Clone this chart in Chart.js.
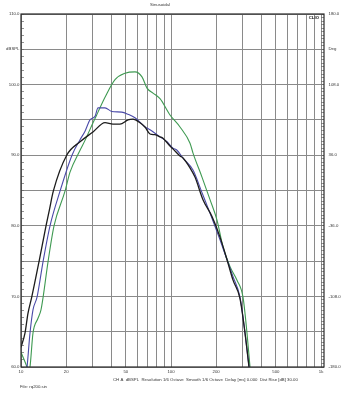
<!DOCTYPE html>
<html><head><meta charset="utf-8">
<script src="https://cdn.jsdelivr.net/npm/chart.js@4/dist/chart.umd.min.js"></script>
<style>html,body{margin:0;padding:0;background:#fff;overflow:hidden}canvas{display:block}</style>
</head><body>
<canvas id="c" width="342" height="396" style="width:342px;height:396px"></canvas>
<script>
// ---- data ----
const xTickValues = [10,20,30,40,50,60,70,80,90,100,200,300,400,500,600,700,800,900,1000];
const xTickLabels = {10:'10',20:'20',50:'50',100:'100',200:'200',500:'500',1000:'1k'};
const dbTickLabels = {110:'110.0',105:'dBSPL',100:'100.0',90:'90.0',80:'80.0',70:'70.0',60:'60.0'};
const phaseTickValues = [180,144,108,36,-36,-108,-180];
const phaseTickTexts = ['180.0','Deg','108.0','36.0','-36.0','-108.0','-180.0'];

const blackHz = [10,10.63,11.13,11.79,13.18,14.68,15.44,16.42,20.17,24.75,30.2,36.31,41.05,45.71,51.68,55.8,62.14,67.08,72.44,78.2,84.47,88.45,98.47,103.1,114.8,120.2,133.9,144.5,163.4,187.7,212.2,236.3,259.1,288.4,311.5,331.1,341.5];
const blackDb = [62.8,64.8,67.6,69.9,74.9,80.0,82.2,84.9,90.0,91.9,93.3,94.6,94.4,94.4,95.0,95.1,94.6,94.0,93.0,92.9,92.6,92.4,91.3,90.9,89.9,89.6,88.2,86.9,83.7,81.3,78.4,75.2,72.3,69.7,64.8,60.0,57.4];

const blueHz = [10.7,10.96,11.48,12.02,12.79,14.02,15.61,18.2,21.88,24.75,26.72,28.84,31.14,32.61,36.31,40.24,46.93,51.68,57.54,67.08,72.44,80.66,84.47,94.04,103.1,109.6,120.2,140.2,160.9,182.0,212.2,236.3,259.1,288.4,311.5,331.1,341.5];
const blueDb = [58.5,59.9,64.8,68.1,69.9,74.9,80.0,84.9,90.0,92.2,93.4,95.0,95.5,96.7,96.7,96.2,96.1,95.8,95.3,94.0,93.6,92.9,92.6,91.9,91.0,90.7,89.6,87.9,84.7,81.8,78.0,75.2,72.8,69.9,64.8,60.0,57.4];

const greenHz = [10,10.96,11.22,11.48,12.02,12.98,13.59,14.02,15.14,16.6,19.65,21.22,24.75,26.72,30.2,32.61,36.31,42.34,49.36,57.54,64.07,69.18,75.86,84.47,98.47,114.8,133.9,140.2,160.9,182.0,202.6,222.2,247.5,275.4,302.0,321.1,336.3,346.7];
const greenDb = [62.1,60.0,59.3,60.0,64.8,66.9,68.1,69.8,74.9,80.0,84.9,87.6,90.7,92.1,94.6,96.1,98.2,100.7,101.6,101.8,101.1,99.5,98.8,98.0,95.7,94.0,91.7,90.3,86.9,83.7,80.8,77.0,74.2,72.3,69.9,64.8,60.0,57.4];

const seriesNames = ['black','blue','green'];
const seriesColors = ['#1c1c1c','#4a4aa8','#3f9a52'];

function pts(hz, db){ return hz.map((f,i)=>({x:f,y:db[i]})); }

Chart.defaults.font.family = "'Liberation Sans', Arial, sans-serif";
Chart.defaults.color = '#333';

const GRID = '#8a8a8a';

const framePlugin = {
  id: 'frame',
  afterDraw(chart){
    const {ctx, chartArea:a} = chart;
    ctx.save();
    ctx.strokeStyle = '#2a2a2a';
    ctx.lineWidth = 1.2;
    ctx.strokeRect(a.left, a.top, a.right - a.left, a.bottom - a.top);
    ctx.fillStyle = '#333';
    ctx.textBaseline = 'middle';
    ctx.font = "4.3px 'Liberation Sans', Arial, sans-serif";
    ctx.textAlign = 'center';
    ctx.fillText('Sinusoidal', 160, 5);
    ctx.textAlign = 'left';
    ctx.fillText('CH A  dBSPL  Resolution 1/6 Octave  Smooth 1/6 Octave  Delay [ms] 0.000  Dist Rise [dB] 30.00', 113, 380);
    ctx.fillText('File: rq200.sin', 20, 387);
    ctx.font = "bold 4.3px 'Liberation Sans', Arial, sans-serif";
    ctx.textAlign = 'right';
    ctx.fillStyle = '#111';
    ctx.fillText('CLIO', a.right - 5, a.top + 3.5);
    ctx.restore();
  }
};

new Chart(document.getElementById('c'), {
  type: 'line',
  data: {
    datasets: [
      {label: seriesNames[0], data: pts(blackHz, blackDb), borderColor: seriesColors[0], borderWidth: 1.3},
      {label: seriesNames[1], data: pts(blueHz, blueDb), borderColor: seriesColors[1], borderWidth: 1.1},
      {label: seriesNames[2], data: pts(greenHz, greenDb), borderColor: seriesColors[2], borderWidth: 1.1}
    ].map(d => Object.assign(d, {pointRadius: 0, fill: false, cubicInterpolationMode: 'monotone', xAxisID: 'x', yAxisID: 'y'}))
  },
  options: {
    responsive: false,
    animation: false,
    devicePixelRatio: 1,
    layout: {padding: {top: 14, left: 0, right: 0, bottom: 0}},
    plugins: {legend: {display: false}, tooltip: {enabled: false}, title: {display: false}},
    scales: {
      x: {
        type: 'logarithmic', position: 'bottom', min: 10, max: 1047,
        afterBuildTicks: s => { s.ticks = xTickValues.map(v => ({value: v})); },
        ticks: {autoSkip: false, maxRotation: 0, minRotation: 0, padding: 2.2, font: {size: 4.3},
          callback: v => xTickLabels[v] !== undefined ? xTickLabels[v] : ''},
        grid: {color: GRID, lineWidth: 1, drawTicks: false},
        border: {display: false},
        afterFit: s => { s.height = 29; }
      },
      y: {
        position: 'left', min: 60, max: 110,
        ticks: {stepSize: 1, autoSkip: false, padding: 4.5, font: {size: 4.3},
          callback: v => dbTickLabels[v] !== undefined ? dbTickLabels[v] : ''},
        grid: {color: c => (c.tick && Math.round(c.tick.value) % 5 === 0) ? GRID : 'rgba(0,0,0,0)',
          lineWidth: 1, tickLength: -3, tickColor: '#666', tickWidth: 0.7},
        border: {display: false},
        afterFit: s => { s.width = 21; }
      },
      y2: {
        type: 'linear', position: 'right', min: -180, max: 180,
        ticks: {stepSize: 3.6, autoSkip: false, padding: 7.5, font: {size: 4.3},
          callback: v => { const i = phaseTickValues.findIndex(p => Math.abs(p - v) < 0.5); return i >= 0 ? phaseTickTexts[i] : ''; }},
        grid: {drawOnChartArea: false, tickLength: -3, tickColor: '#666', tickWidth: 0.7},
        border: {display: false},
        afterFit: s => { s.width = 18; }
      }
    }
  },
  plugins: [framePlugin]
});
</script>
</body></html>
